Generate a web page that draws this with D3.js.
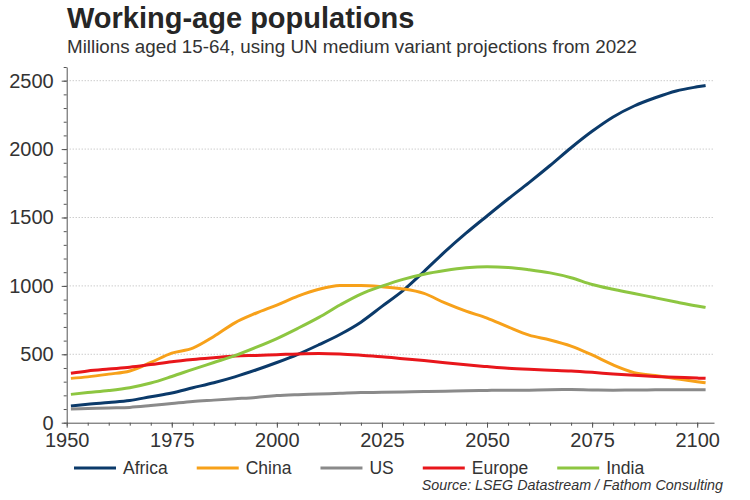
<!DOCTYPE html>
<html>
<head>
<meta charset="utf-8">
<script src="https://cdn.jsdelivr.net/npm/d3@7"></script>
<style>
  html, body { margin: 0; padding: 0; background: #fff; }
  svg { display: block; font-family: "Liberation Sans", Arial, sans-serif; }
</style>
</head>
<body>
<svg id="chart" width="750" height="500"></svg>
<script>
const years = [1951,1955,1960,1965,1970,1975,1980,1985,1990,1995,2000,2005,2010,2015,2020,2025,2030,2035,2040,2045,2050,2055,2060,2065,2070,2075,2080,2085,2090,2095,2100,2102];
const africa = [122,135,148,162,190,217,255,292,335,385,440,500,570,645,735,850,965,1105,1250,1385,1511,1635,1755,1880,2010,2130,2235,2315,2375,2425,2455,2465];
const china  = [324,335,355,378,440,508,545,630,730,800,860,925,975,1002,1003,994,978,945,875,815,765,700,640,605,560,495,422,366,345,322,300,292];
const us     = [100,103,108,112,125,140,155,165,175,185,198,205,210,215,220,222,225,228,230,234,236,237,238,241,242,239,238,239,240,240,240,240];
const europe = [361,378,392,405,425,446,462,475,487,492,497,503,506,502,493,482,468,454,438,423,410,398,390,384,378,368,356,346,338,332,326,324];
const india  = [207,220,235,256,290,338,390,440,490,550,615,690,770,860,940,998,1048,1085,1112,1132,1140,1135,1118,1095,1060,1010,975,945,913,882,853,843];

const seriesNames = ["Africa","China","US","Europe","India"];
const seriesValues = [africa, china, us, europe, india];
const seriesColors = ["#0b3a6a","#f7a11a","#8a8a8a","#e8161b","#8dc641"];

const yTickValues = [0,500,1000,1500,2000,2500];
const xTickValues = [1950,1975,2000,2025,2050,2075,2100];

const title = "Working-age populations";
const subtitle = "Millions aged 15-64, using UN medium variant projections from 2022";
const source = "Source: LSEG Datastream / Fathom Consulting";

const svg = d3.select("#chart");
const pLeft = 66.7, pRight = 714, pTop = 67, pBottom = 422.7;

const x = d3.scaleLinear().domain([1950, 2104]).range([pLeft, pRight]);
const y = d3.scaleLinear().domain([0, 2600]).range([pBottom, pTop]);

// Title
svg.append("text").attr("x", 67).attr("y", 28)
  .attr("font-size", 29).attr("font-weight", "bold").attr("fill", "#262626")
  .text(title);
svg.append("text").attr("x", 67).attr("y", 53)
  .attr("font-size", 18.8).attr("fill", "#333")
  .text(subtitle);

// Gridlines
svg.append("g").selectAll("line")
  .data(yTickValues.filter(d => d > 0)).join("line")
  .attr("x1", pLeft).attr("x2", pRight)
  .attr("y1", d => y(d)).attr("y2", d => y(d))
  .attr("stroke", "#b5b5b5").attr("stroke-width", 1)
  .attr("stroke-dasharray", "1,2");

// Y axis
const yMinor = d3.range(0, 2601, 100);
const yAxisMinor = d3.axisLeft(y).tickValues(yMinor).tickSize(3).tickFormat("");
const gyMinor = svg.append("g").attr("transform", `translate(${pLeft},0)`).call(yAxisMinor);
gyMinor.select(".domain").remove();
gyMinor.selectAll("line").attr("stroke", "#555");

const yAxis = d3.axisLeft(y).tickValues(yTickValues).tickSize(5).tickPadding(8)
  .tickSizeOuter(0).tickFormat(d3.format("d"));
const gy = svg.append("g").attr("transform", `translate(${pLeft},0)`).call(yAxis);
gy.select(".domain").attr("stroke", "#555");
gy.selectAll(".tick line").attr("stroke", "#555");
gy.selectAll(".tick text").attr("font-size", 20).attr("fill", "#333")
  .attr("font-family", "'Liberation Sans', Arial, sans-serif");

// X axis
const xMinor = d3.range(1950, 2104, 5);
const xAxisMinor = d3.axisBottom(x).tickValues(xMinor).tickSize(3).tickFormat("");
const gxMinor = svg.append("g").attr("transform", `translate(0,${pBottom})`).call(xAxisMinor);
gxMinor.select(".domain").remove();
gxMinor.selectAll("line").attr("stroke", "#555");

const xAxis = d3.axisBottom(x).tickValues(xTickValues).tickSize(5).tickPadding(5)
  .tickSizeOuter(0).tickFormat(d3.format("d"));
const gx = svg.append("g").attr("transform", `translate(0,${pBottom})`).call(xAxis);
gx.select(".domain").attr("stroke", "#555");
gx.selectAll(".tick line").attr("stroke", "#555");
gx.selectAll(".tick text").attr("font-size", 20).attr("fill", "#333")
  .attr("font-family", "'Liberation Sans', Arial, sans-serif");

// Lines
const line = d3.line().x((d, i) => x(years[i])).y(d => y(d)).curve(d3.curveMonotoneX);
svg.append("g").selectAll("path")
  .data(seriesValues).join("path")
  .attr("d", d => line(d))
  .attr("fill", "none")
  .attr("stroke", (d, i) => seriesColors[i])
  .attr("stroke-width", 3)
  .attr("stroke-linejoin", "round");

// Legend
const lg = svg.append("g");
let lx = 74;
seriesNames.forEach((name, i) => {
  lg.append("line").attr("x1", lx).attr("x2", lx + 42)
    .attr("y1", 468).attr("y2", 468)
    .attr("stroke", seriesColors[i]).attr("stroke-width", 3);
  const t = lg.append("text").attr("x", lx + 49).attr("y", 474)
    .attr("font-size", 17.5).attr("fill", "#333").text(name);
  lx = lx + 49 + t.node().getComputedTextLength() + 29;
});

// Source
svg.append("text").attr("x", 723).attr("y", 490)
  .attr("text-anchor", "end").attr("font-size", 14.3)
  .attr("font-style", "italic").attr("fill", "#333")
  .text(source);
</script>
</body>
</html>
